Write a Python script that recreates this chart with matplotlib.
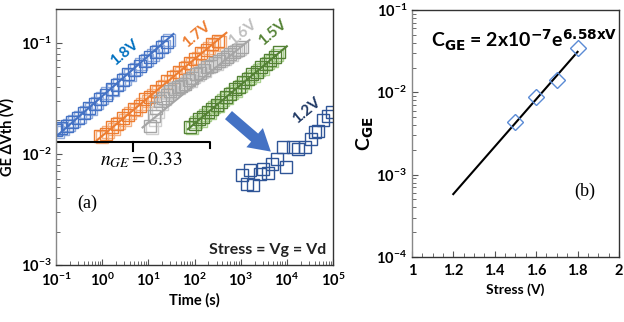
import numpy as np
import matplotlib
matplotlib.use('Agg')
import matplotlib.pyplot as plt
from matplotlib.ticker import LogLocator, MultipleLocator, NullFormatter

plt.rcParams['font.family'] = ['Lato', 'DejaVu Sans']

# ---- panel (a) data: time (s) vs GE dVth (V) ----
t18a = [0.1, 0.13, 0.17, 0.22, 0.3, 0.4, 0.52, 0.7, 0.9, 1.2, 1.6, 2.1, 2.8, 3.7, 4.9, 6.5, 8.6, 11, 15, 20, 26]
v18a = [0.0165, 0.0172, 0.0178, 0.0192, 0.021, 0.0232, 0.0258, 0.0283, 0.031, 0.034, 0.0385, 0.042, 0.046, 0.052, 0.057, 0.062, 0.068, 0.075, 0.083, 0.092, 0.102]
t18b = [0.11, 0.145, 0.19, 0.25, 0.33, 0.44, 0.58, 0.77, 1.0, 1.3, 1.75, 2.3, 3.1, 4.1, 5.4, 7.1, 9.4, 12.5, 16.5, 22, 28]
v18b = [0.0158, 0.0168, 0.0181, 0.0198, 0.0215, 0.0238, 0.0252, 0.029, 0.0318, 0.035, 0.0375, 0.043, 0.0475, 0.051, 0.058, 0.064, 0.07, 0.077, 0.085, 0.094, 0.105]

t17a = [0.9, 1.2, 1.6, 2.1, 2.8, 3.7, 4.9, 6.5, 8.6, 11, 15, 20, 26, 35, 46, 61, 80, 105, 140, 185, 245, 320]
v17a = [0.0145, 0.0152, 0.0175, 0.0184, 0.021, 0.0225, 0.0255, 0.0272, 0.031, 0.0328, 0.0372, 0.0402, 0.0452, 0.049, 0.055, 0.059, 0.066, 0.071, 0.081, 0.087, 0.097, 0.104]
t17b = [1.0, 1.35, 1.8, 2.35, 3.1, 4.1, 5.5, 7.3, 9.6, 12.5, 16.5, 22, 29, 39, 51, 68, 90, 118, 155, 205, 270, 350]
v17b = [0.0141, 0.0158, 0.0168, 0.019, 0.0203, 0.0231, 0.0249, 0.028, 0.0302, 0.0338, 0.0362, 0.0412, 0.0443, 0.0502, 0.0538, 0.0605, 0.0648, 0.0735, 0.0785, 0.089, 0.095, 0.101]

t16a = [11, 13, 15, 18, 21, 25, 30, 36, 43, 52, 62, 75, 90, 110, 130, 160, 190, 230, 280, 340, 410, 500, 600, 720, 870, 1050]
v16a = [0.018, 0.022, 0.026, 0.030, 0.032, 0.034, 0.037, 0.038, 0.040, 0.041, 0.043, 0.046, 0.048, 0.052, 0.054, 0.057, 0.060, 0.062, 0.066, 0.068, 0.072, 0.075, 0.079, 0.083, 0.087, 0.091]
t16b = [12, 14, 16.5, 19.5, 23, 27, 33, 39, 47, 56, 68, 82, 98, 118, 142, 172, 205, 250, 300, 370, 450, 540, 650, 790, 950]
v16b = [0.017, 0.020, 0.024, 0.028, 0.031, 0.035, 0.036, 0.039, 0.039, 0.042, 0.044, 0.045, 0.049, 0.051, 0.055, 0.056, 0.061, 0.063, 0.065, 0.069, 0.071, 0.076, 0.078, 0.084, 0.088]

t15a = [80, 100, 125, 155, 195, 240, 300, 380, 470, 590, 740, 920, 1150, 1440, 1800, 2250, 2800, 3500, 4400, 5500, 6900]
v15a = [0.0175, 0.0185, 0.0205, 0.0215, 0.024, 0.0252, 0.0278, 0.0294, 0.0325, 0.0343, 0.038, 0.0401, 0.0445, 0.047, 0.052, 0.0548, 0.0605, 0.064, 0.0705, 0.075, 0.082]
t15b = [88, 110, 138, 172, 215, 265, 330, 415, 515, 650, 810, 1010, 1260, 1580, 1980, 2470, 3080, 3850, 4800, 6000]
v15b = [0.0172, 0.0192, 0.0198, 0.0224, 0.0232, 0.0262, 0.0270, 0.0305, 0.0318, 0.0355, 0.0372, 0.0412, 0.0432, 0.0485, 0.050, 0.0565, 0.0585, 0.066, 0.0690, 0.078]

t12 = [1050, 1340, 1860, 1580, 2600, 3070, 3960, 4670, 6000, 9800, 8300, 13700, 17400, 24400, 34000, 40500, 47800, 61000, 78000, 97000]
v12 = [0.0064, 0.0054, 0.0052, 0.0071, 0.0066, 0.0073, 0.0068, 0.0081, 0.009, 0.0076, 0.0116, 0.0115, 0.0111, 0.0116, 0.0136, 0.0156, 0.0162, 0.020, 0.022, 0.024]

# fitted lines (end points)
fit18_t, fit18_v = [0.1, 35], [0.0143, 0.12]
fit17_t, fit17_v = [0.76, 490], [0.0132, 0.123]
fit16_t, fit16_v = [7.5, 1550], [0.0173, 0.106]
fit15_t, fit15_v = [72, 10000], [0.0167, 0.093]

# n_GE bracket
brk_t = [0.1, 0.1, 215, 215]
brk_v = [0.0112, 0.0127, 0.0127, 0.0112]
brk_mid_t = [4.6, 4.6]
brk_mid_v = [0.0127, 0.0106]

# ---- panel (b) data ----
stress = [1.5, 1.6, 1.7, 1.8]
cge = [0.0043, 0.0088, 0.0143, 0.0344]
fitb_x, fitb_y = [1.2, 1.8], [5.8e-4, 0.031]

fig = plt.figure(figsize=(6.24, 3.22), dpi=100)
ax1 = fig.add_axes([0.0897, 0.177, 0.444, 0.794])
ax2 = fig.add_axes([0.660, 0.202, 0.332, 0.767])

mk = dict(marker='s', ms=8, mfc='none', mew=1.0, ls='none')
series = [
    (t18a, v18a, t18b, v18b, '#4472C4', '#8FAADC', fit18_t, fit18_v),
    (t17a, v17a, t17b, v17b, '#ED7D31', '#F4B183', fit17_t, fit17_v),
    (t16a, v16a, t16b, v16b, '#A5A5A5', '#CFCFCF', fit16_t, fit16_v),
    (t15a, v15a, t15b, v15b, '#548235', '#A9D18E', fit15_t, fit15_v),
]
for ta, va, tb, vb, c, cl, ft, fv in series:
    ax1.plot(tb, vb, mec=cl, **mk)
    ax1.plot(ta, va, mec=c, **mk)
    ax1.plot(ft, fv, color=c, lw=1.5)
ax1.plot(t12, v12, mec='#2F5597', **mk)

ax1.plot(brk_t, brk_v, color='black', lw=1.5)
ax1.plot(brk_mid_t, brk_mid_v, color='black', lw=1.5)

ax1.annotate('', xy=(5000, 0.0101), xytext=(490, 0.0232),
             arrowprops=dict(arrowstyle='simple,head_width=1.3,head_length=1.1,tail_width=0.55',
                             mutation_scale=14, color='#4472C4', lw=0))

lab = dict(fontsize=11, fontweight='bold', ha='center', va='center', rotation=40)
ax1.text(3.1, 0.082, '1.8V', color='#0070C0', **lab)
ax1.text(112, 0.119, '1.7V', color='#ED7D31', **lab)
ax1.text(1100, 0.124, '1.6V', color='#BFBFBF', **lab)
ax1.text(5000, 0.124, '1.5V', color='#548235', **lab)
ax1.text(27000, 0.0245, '1.2V', color='#1F3864', **lab)

ax1.text(7, 0.0087, r'$n_{GE} = 0.33$', fontsize=14, ha='center', va='center',
         math_fontfamily='stix')
ax1.text(0.47, 0.0036, '(a)', fontsize=13, family='Liberation Serif', ha='center', va='center')
ax1.text(0.975, 0.06, 'Stress = Vg = Vd', transform=ax1.transAxes, fontsize=11.5,
         fontweight='bold', ha='right', va='center', color='#222222')

ax1.set_xscale('log')
ax1.set_yscale('log')
ax1.set_xlim(0.1, 1e5)
ax1.set_ylim(1e-3, 0.2)
ax1.set_xticks([0.1, 1, 10, 100, 1000, 1e4, 1e5])
ax1.set_yticks([1e-3, 1e-2, 1e-1])
ax1.xaxis.set_minor_locator(LogLocator(base=10, subs=np.arange(2, 10), numticks=20))
ax1.yaxis.set_minor_locator(LogLocator(base=10, subs=np.arange(2, 10), numticks=20))
ax1.xaxis.set_minor_formatter(NullFormatter())
ax1.yaxis.set_minor_formatter(NullFormatter())
ax1.set_xlabel('Time (s)', fontsize=10.5, fontweight='bold', labelpad=3)
ax1.set_ylabel('GE ΔVth (V)', fontsize=10.5, fontweight='bold', labelpad=4)

# panel (b)
ax2.plot(fitb_x, fitb_y, color='black', lw=1.5)
ax2.plot(stress, cge, marker='D', ms=8, mfc='none', mec='#5B8BD5', mew=1.0, ls='none')
ax2.text(0.54, 0.875, r'C$_{\mathbf{GE}}$ = 2x10$^{\mathbf{-7}}$e$^{\mathbf{6.58xV}}$',
         transform=ax2.transAxes, fontsize=14, fontweight='bold', ha='center', va='center')
ax2.text(1.836, 6.3e-4, '(b)', fontsize=13, family='Liberation Serif', ha='center', va='center')
ax2.set_yscale('log')
ax2.set_xlim(1, 2)
ax2.set_ylim(1e-4, 0.1)
ax2.set_yticks([1e-4, 1e-3, 1e-2, 1e-1])
ax2.yaxis.set_minor_locator(LogLocator(base=10, subs=np.arange(2, 10), numticks=20))
ax2.yaxis.set_minor_formatter(NullFormatter())
ax2.xaxis.set_major_locator(MultipleLocator(0.2))
ax2.xaxis.set_minor_locator(MultipleLocator(0.05))
ax2.xaxis.set_major_formatter(plt.FuncFormatter(lambda v, p: '%g' % round(v, 2)))
ax2.set_xlabel('Stress (V)', fontsize=10, fontweight='bold', labelpad=4)
ax2.set_ylabel(r'C$_{\mathbf{GE}}$', fontsize=14, fontweight='bold', labelpad=0)

for ax in (ax1, ax2):
    ax.tick_params(which='both', direction='in', top=False, right=False, labelsize=10.5, color='#555555')
    ax.tick_params(which='major', length=4)
    ax.tick_params(which='minor', length=3)
    ax.tick_params(axis='x', pad=5)
    for s in ax.spines.values():
        s.set_linewidth(1.0)
        s.set_color('#333333')
    ax.spines['left'].set_color('#888888')
    for l in ax.get_xticklabels() + ax.get_yticklabels():
        l.set_fontweight('bold')

fig.savefig('out.png', dpi=100)
